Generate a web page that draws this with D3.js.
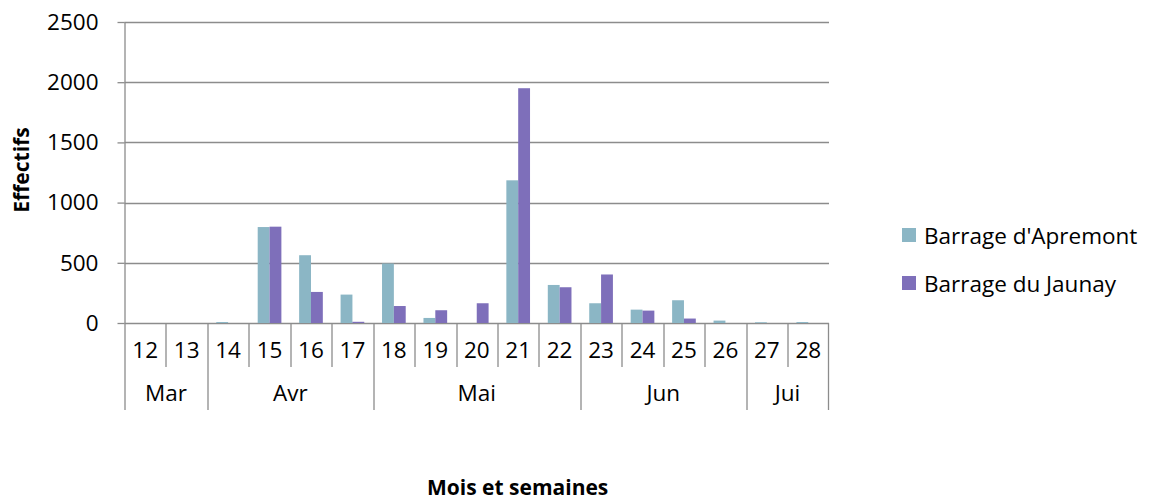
<!DOCTYPE html>
<html>
<head>
<meta charset="utf-8">
<script src="https://cdn.jsdelivr.net/npm/d3@7"></script>
<style>
  body { margin: 0; background: #fff; }
  svg { display: block; font-family: "Open Sans", Lato, sans-serif; }
</style>
</head>
<body>
<svg id="chart" width="1151" height="501"></svg>
<script>
// data
const weeks = ["12", "13", "14", "15", "16", "17", "18", "19", "20", "21", "22", "23", "24", "25", "26", "27", "28"]
const monthNames = ["Mar", "Avr", "Mai", "Jun", "Jui"]
const monthWeeks = [
  ["12", "13"],
  ["14", "15", "16", "17"],
  ["18", "19", "20", "21", "22"],
  ["23", "24", "25", "26"],
  ["27", "28"]
]
const seriesNames = ["Barrage d'Apremont", "Barrage du Jaunay"]
const apremont = [0, 0, 8, 797, 563, 236, 494, 42, 0, 1185, 316, 164, 111, 189, 20, 6, 8]
const jaunay = [0, 0, 0, 800, 258, 10, 141, 106, 164, 1950, 297, 403, 103, 37, 0, 0, 0]
const yTicks = [0, 500, 1000, 1500, 2000, 2500]
const colors = ["#8BB6C5", "#7E6FBA"]

const svg = d3.select("#chart")
const margin = { top: 22, left: 124.5, right: 322, bottom: 178 }
const plotW = 1151 - margin.left - margin.right
const plotH = 501 - margin.top - margin.bottom
const fontSize = 22.5

const g = svg.append("g")
  .attr("transform", `translate(${margin.left},${margin.top})`)

// scales
const x = d3.scaleBand().domain(weeks).range([0, plotW]).padding(0)
const barW = x.bandwidth() / 3.5 // gap width 150%
const xInner = d3.scaleBand().domain(seriesNames)
  .range([(x.bandwidth() - 2 * barW) / 2, (x.bandwidth() + 2 * barW) / 2])
const y = d3.scaleLinear().domain([0, 2500]).range([plotH, 0])

const axisColor = "#8c8c8c"

// horizontal gridlines
g.append("g").selectAll("line")
  .data(yTicks)
  .join("line")
  .attr("x1", 0).attr("x2", plotW)
  .attr("y1", d => Math.round(y(d)) + 0.5)
  .attr("y2", d => Math.round(y(d)) + 0.5)
  .attr("stroke", axisColor)
  .attr("stroke-width", 1.3)

// y axis
const yAxis = g.append("g")
  .call(d3.axisLeft(y).tickValues(yTicks).tickFormat(d3.format("d")).tickSize(7).tickPadding(19))
yAxis.select(".domain").remove()
yAxis.selectAll(".tick line").attr("stroke", axisColor).attr("stroke-width", 1.3)
yAxis.selectAll(".tick text")
  .attr("font-size", fontSize)
  .attr("font-family", "'Open Sans', sans-serif")
  .attr("fill", "#000")

// bars
const rows = weeks.map((w, i) => ({ week: w, values: [apremont[i], jaunay[i]] }))
g.append("g").selectAll("g")
  .data(rows)
  .join("g")
  .attr("transform", d => `translate(${x(d.week)},0)`)
  .selectAll("rect")
  .data(d => d.values.map((v, j) => ({ name: seriesNames[j], value: v, color: colors[j] })))
  .join("rect")
  .attr("x", d => xInner(d.name))
  .attr("width", xInner.bandwidth())
  .attr("y", d => y(d.value))
  .attr("height", d => y(0) - y(d.value))
  .attr("fill", d => d.color)

// category axis: week separators, labels, month separators
const weekSepBottom = plotH + 44
const monthSepBottom = plotH + 87
const monthStarts = monthWeeks.map(m => m[0])
const xg = g.append("g")

// value axis line, continued down through the category rows
xg.append("line")
  .attr("x1", 0.5).attr("x2", 0.5)
  .attr("y1", 0).attr("y2", monthSepBottom)
  .attr("stroke", axisColor).attr("stroke-width", 1.3)

weeks.forEach((w, i) => {
  if (i === 0) return
  const xx = Math.round(x(w)) + 0.5
  xg.append("line")
    .attr("x1", xx).attr("x2", xx)
    .attr("y1", plotH)
    .attr("y2", monthStarts.includes(w) ? monthSepBottom : weekSepBottom)
    .attr("stroke", axisColor).attr("stroke-width", 1.3)
})
xg.append("line")
  .attr("x1", plotW - 0.5).attr("x2", plotW - 0.5)
  .attr("y1", plotH).attr("y2", monthSepBottom)
  .attr("stroke", axisColor).attr("stroke-width", 1.3)

xg.selectAll(".week-label")
  .data(weeks)
  .join("text")
  .attr("class", "week-label")
  .attr("x", d => x(d) + x.bandwidth() / 2)
  .attr("y", plotH + 35)
  .attr("text-anchor", "middle")
  .attr("font-size", fontSize)
  .text(d => d)

xg.selectAll(".month-label")
  .data(monthNames)
  .join("text")
  .attr("class", "month-label")
  .attr("x", (d, i) => {
    const ws = monthWeeks[i]
    return (x(ws[0]) + x(ws[ws.length - 1]) + x.bandwidth()) / 2
  })
  .attr("y", plotH + 78)
  .attr("text-anchor", "middle")
  .attr("font-size", fontSize)
  .text(d => d)

// axis titles
svg.append("text")
  .attr("transform", `translate(29,170) rotate(-90)`)
  .attr("text-anchor", "middle")
  .attr("font-size", 21)
  .attr("font-weight", "bold")
  .text("Effectifs")

svg.append("text")
  .attr("x", 427)
  .attr("y", 495)
  .attr("font-size", 21)
  .attr("font-weight", "bold")
  .text("Mois et semaines")

// legend
const legend = svg.append("g").attr("transform", "translate(902,228)")
const items = legend.selectAll("g")
  .data(seriesNames)
  .join("g")
  .attr("transform", (d, i) => `translate(0,${i * 48})`)
items.append("rect")
  .attr("width", 14).attr("height", 14)
  .attr("fill", (d, i) => colors[i])
items.append("text")
  .attr("x", 22)
  .attr("y", 15.5)
  .attr("font-size", fontSize)
  .text(d => d)
</script>
</body>
</html>
